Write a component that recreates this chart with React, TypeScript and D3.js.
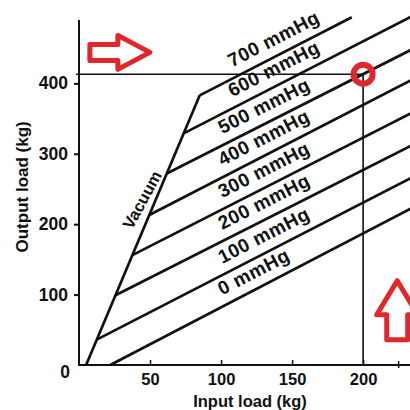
import React, { useEffect, useRef } from "react";
import * as d3 from "d3";

const width = 410;
const height = 410;
const font = "'Liberation Sans', Arial, sans-serif";
const red = "#e1262c";

// pressure lines (mmHg): start on the vacuum line, run off to the right
const pressures = [0, 100, 200, 300, 400, 500, 600, 700];
const startInput = [22, 12.5, 25.7, 37.6, 49.5, 61.8, 73.7, 85];
const startOutput = [0, 36, 99, 156, 213, 272, 329, 383];
const endInput = [240, 240, 240, 240, 240, 240, 240, 192];
const endOutput = [229, 272, 318, 364, 411, 454, 501, 494];

// vacuum (full boost) line
const vacuumInput = [5, 85];
const vacuumOutput = [0, 383];

// read-off example: 200 kg input at 500 mmHg
const markInput = 200;
const markOutput = 413;

const xTicks = [50, 100, 150, 200];
const xMinorTicks = [225];
const yTicks = [100, 200, 300, 400];

const App = () => {
  const ref = useRef<SVGSVGElement>(null);

  useEffect(() => {
    const svg = d3.select(ref.current);
    svg.selectAll("*").remove();
    svg.attr("width", width).attr("height", height).style("background", "#fff");

    const x = d3.scaleLinear().domain([0, 233]).range([79, 410]);
    const y = d3.scaleLinear().domain([0, 490]).range([365, 20]);

    // axes
    svg.append("line")
      .attr("x1", x(0)).attr("x2", width)
      .attr("y1", y(0)).attr("y2", y(0))
      .attr("stroke", "#111").attr("stroke-width", 2);
    svg.append("line")
      .attr("x1", x(0)).attr("x2", x(0))
      .attr("y1", y(0) + 1).attr("y2", y(490))
      .attr("stroke", "#111").attr("stroke-width", 2);

    const xAxis = d3.axisBottom(x)
      .tickValues(xTicks)
      .tickSizeInner(-5)
      .tickSizeOuter(0)
      .tickPadding(8)
      .tickFormat(d3.format("d"));
    svg.append("g")
      .attr("transform", `translate(0, ${y(0)})`)
      .call(xAxis)
      .call((g) => g.select(".domain").remove())
      .call((g) => g.selectAll("line").attr("stroke", "#111").attr("stroke-width", 1.5))
      .call((g) => g.selectAll("text")
        .attr("font-family", font).attr("font-weight", "bold")
        .attr("font-size", 16.5).attr("fill", "#111"));

    svg.append("g")
      .selectAll("line")
      .data(xMinorTicks)
      .join("line")
      .attr("x1", (d) => x(d)).attr("x2", (d) => x(d))
      .attr("y1", y(0) - 4).attr("y2", y(0) + 3)
      .attr("stroke", "#111").attr("stroke-width", 1.5);

    const yAxis = d3.axisLeft(y)
      .tickValues(yTicks)
      .tickSizeInner(5)
      .tickSizeOuter(0)
      .tickPadding(6)
      .tickFormat(d3.format("d"));
    svg.append("g")
      .attr("transform", `translate(${x(0)}, 0)`)
      .call(yAxis)
      .call((g) => g.select(".domain").remove())
      .call((g) => g.selectAll("line").attr("stroke", "#111").attr("stroke-width", 2))
      .call((g) => g.selectAll("text")
        .attr("font-family", font).attr("font-weight", "bold")
        .attr("font-size", 17.5).attr("fill", "#111"));

    svg.append("text")
      .attr("x", 65).attr("y", y(0) + 13)
      .attr("text-anchor", "middle")
      .attr("font-family", font).attr("font-weight", "bold")
      .attr("font-size", 17.5).attr("fill", "#111")
      .text("0");

    // axis titles
    svg.append("text")
      .attr("x", 250).attr("y", 407)
      .attr("text-anchor", "middle")
      .attr("font-family", font).attr("font-weight", "bold")
      .attr("font-size", 16.5).attr("fill", "#111")
      .text("Input load (kg)");
    svg.append("text")
      .attr("transform", `translate(28, ${y(253)}) rotate(-90)`)
      .attr("text-anchor", "middle")
      .attr("font-family", font).attr("font-weight", "bold")
      .attr("font-size", 17).attr("fill", "#111")
      .text("Output load (kg)");

    // pressure lines
    const rows = pressures.map((p, i) => ({
      p,
      x1: x(startInput[i]), y1: y(startOutput[i]),
      x2: x(endInput[i]), y2: y(endOutput[i]),
    }));
    svg.append("g")
      .selectAll("line")
      .data(rows)
      .join("line")
      .attr("x1", (d) => d.x1).attr("y1", (d) => d.y1)
      .attr("x2", (d) => d.x2).attr("y2", (d) => d.y2)
      .attr("stroke", "#111").attr("stroke-width", 2.7);

    svg.append("g")
      .selectAll("text")
      .data(rows)
      .join("text")
      .attr("transform", (d) => {
        const lx = x(d.p >= 600 ? 111 : 104);
        const t = (lx - d.x1) / (d.x2 - d.x1);
        const ly = d.y1 + t * (d.y2 - d.y1);
        const a = (Math.atan2(d.y2 - d.y1, d.x2 - d.x1) * 180) / Math.PI;
        return `translate(${lx}, ${ly}) rotate(${a})`;
      })
      .attr("y", -10)
      .attr("font-family", font).attr("font-weight", "bold")
      .attr("font-size", 19).attr("letter-spacing", 0.5).attr("fill", "#111")
      .text((d) => `${d.p} mmHg`);

    // vacuum line
    const vx1 = x(vacuumInput[0]), vy1 = y(vacuumOutput[0]);
    const vx2 = x(vacuumInput[1]), vy2 = y(vacuumOutput[1]);
    svg.append("line")
      .attr("x1", vx1).attr("y1", vy1).attr("x2", vx2).attr("y2", vy2)
      .attr("stroke", "#111").attr("stroke-width", 2.7);
    const va = (Math.atan2(vy2 - vy1, vx2 - vx1) * 180) / Math.PI;
    const vy = 205;
    const vt = y.invert(vy);
    const vlx = vx1 + ((vt - vacuumOutput[0]) / (vacuumOutput[1] - vacuumOutput[0])) * (vx2 - vx1);
    svg.append("text")
      .attr("transform", `translate(${vlx - 2}, ${vy}) rotate(${va + 6})`)
      .attr("y", -5)
      .attr("text-anchor", "middle")
      .attr("font-family", font).attr("font-weight", "bold")
      .attr("font-size", 16.5).attr("fill", "#111")
      .text("Vacuum");

    // guide lines to the read-off point
    svg.append("path")
      .attr("d", `M${x(0) - 3},${y(markOutput)}H${x(markInput)}V${y(0)}`)
      .attr("fill", "none").attr("stroke", "#111").attr("stroke-width", 1.6);

    svg.append("circle")
      .attr("cx", x(markInput)).attr("cy", y(markOutput))
      .attr("r", 9.5)
      .attr("fill", "none").attr("stroke", red).attr("stroke-width", 6);

    // red outline arrows
    const rightArrow = [[-63, -8], [-35, -8], [-35, -17], [-3, 0], [-35, 17], [-35, 8], [-63, 8]];
    const upArrow = [[-10.5, 62], [-10.5, 37], [-20.5, 37], [0, 3], [20.5, 37], [10.5, 37], [10.5, 62]];
    const poly = (pts: number[][]) => "M" + pts.map((p) => p.join(",")).join("L") + "Z";
    svg.append("path")
      .attr("transform", `translate(${x(52)}, ${y(444)})`)
      .attr("d", poly(rightArrow))
      .attr("fill", "#fff").attr("stroke", red)
      .attr("stroke-width", 5).attr("stroke-linejoin", "round");
    svg.append("path")
      .attr("transform", `translate(${x(224)}, ${y(124)})`)
      .attr("d", poly(upArrow))
      .attr("fill", "#fff").attr("stroke", red)
      .attr("stroke-width", 5).attr("stroke-linejoin", "round");
  }, []);

  return (
    <div style={{ position: "absolute", left: 0, top: 0 }}>
      <svg ref={ref} />
    </div>
  );
};

export default App;
